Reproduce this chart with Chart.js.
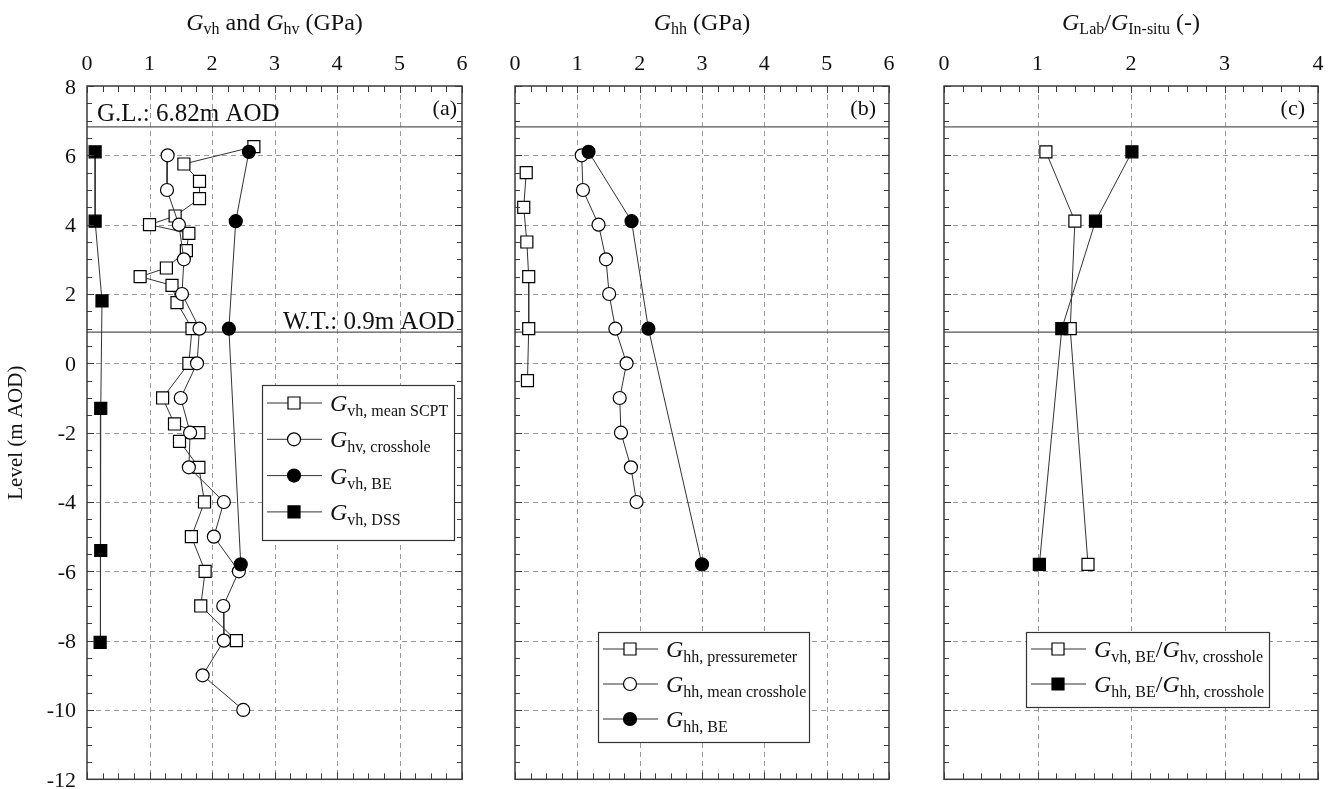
<!DOCTYPE html>
<html>
<head>
<meta charset="utf-8">
<script src="https://cdn.jsdelivr.net/npm/chart.js@4.4.1/dist/chart.umd.min.js"></script>
<style>
  html, body { margin: 0; padding: 0; background: #fff; }
  #wrap { position: relative; width: 1338px; height: 789px; background: #fff; }
  #wrap canvas { position: absolute; left: 0; top: 0; }
</style>
</head>
<body>
<div id="wrap">
  <canvas id="panelA" width="1338" height="789"></canvas>
  <canvas id="panelB" width="1338" height="789"></canvas>
  <canvas id="panelC" width="1338" height="789"></canvas>
</div>
<script>
// ---- Panel (a): G_vh and G_hv profiles (GPa) against level (m AOD) ----
const scptLevel = [6.25, 5.75, 5.25, 4.75, 4.25, 4.0, 3.75, 3.25, 2.75, 2.5, 2.25, 1.75, 1.0, 0, -1, -1.75, -2, -2.25, -3, -4, -5, -6, -7, -8];
const gvhScpt   = [2.67, 1.55, 1.80, 1.80, 1.41, 1.00, 1.63, 1.59, 1.27, 0.85, 1.36, 1.44, 1.68, 1.63, 1.21, 1.40, 1.79, 1.48, 1.79, 1.88, 1.67, 1.89, 1.82, 2.39];

const xholeLevel = [6, 5, 4, 3, 2, 1, 0, -1, -2, -3, -4, -5, -6, -7, -8, -9, -10];
const ghvXhole   = [1.29, 1.28, 1.47, 1.55, 1.52, 1.80, 1.76, 1.50, 1.65, 1.63, 2.19, 2.03, 2.43, 2.18, 2.19, 1.85, 2.50];

const beLevel = [6.1, 4.1, 1.0, -5.8];
const gvhBE   = [2.59, 2.38, 2.27, 2.46];

const dssLevel = [6.1, 4.1, 1.8, -1.3, -5.4, -8.05];
const gvhDss   = [0.13, 0.13, 0.24, 0.22, 0.22, 0.21];

// ---- Panel (b): G_hh profiles (GPa) ----
const pmLevel = [5.5, 4.5, 3.5, 2.5, 1.0, -0.5];
const ghhPm   = [0.18, 0.14, 0.19, 0.22, 0.22, 0.20];

const meanXholeLevel = [6, 5, 4, 3, 2, 1, 0, -1, -2, -3, -4];
const ghhXhole       = [1.07, 1.09, 1.34, 1.46, 1.51, 1.61, 1.79, 1.68, 1.70, 1.86, 1.95];

const ghhBE = [1.18, 1.87, 2.14, 3.00];

// ---- Panel (c): laboratory / in-situ ratios (-) ----
const ratioVh = [1.09, 1.40, 1.35, 1.54];
const ratioHh = [2.01, 1.62, 1.26, 1.02];

// ---- Axes ----
const levelTicks = [8, 6, 4, 2, 0, -2, -4, -6, -8, -10, -12];
const modulusTicks = [0, 1, 2, 3, 4, 5, 6];
const ratioTicks = [0, 1, 2, 3, 4];
const groundLevel = 6.82;
const waterTable = 0.9;

const FONT = '"Liberation Serif", "Times New Roman", Times, serif';
const LINE = '#333333';

const pts = (xs, ys) => xs.map((v, i) => ({ x: v, y: ys[i] }));

function series(label, xs, ys, style, filled, order) {
  return {
    label,
    data: pts(xs, ys),
    showLine: true,
    borderColor: LINE,
    borderWidth: 1,
    tension: 0,
    pointStyle: style,
    pointRadius: style === 'rect' ? 8.5 : 6.5,
    pointBackgroundColor: filled ? '#000' : '#fff',
    pointBorderColor: '#000',
    pointBorderWidth: 1.2,
    order
  };
}

// Text made of italic symbols, upright words and subscripts
function richParts(ctx, parts, big, small) {
  return parts.map(([t, k]) => {
    const font = k === 'i' ? `italic ${big}px ${FONT}` : k === 's' ? `${small}px ${FONT}` : `${big}px ${FONT}`;
    ctx.font = font;
    return { t, k, font, w: ctx.measureText(t).width };
  });
}
function drawRich(ctx, parts, x, y, big, small, subDy, align) {
  const p = richParts(ctx, parts, big, small);
  const total = p.reduce((s, q) => s + q.w, 0);
  let cx = align === 'center' ? x - total / 2 : x;
  ctx.textAlign = 'left';
  ctx.textBaseline = 'alphabetic';
  p.forEach(q => {
    ctx.font = q.font;
    ctx.fillText(q.t, cx, q.k === 's' ? y + subDy : y);
    cx += q.w;
  });
}

function steps(min, max, step) {
  const out = [];
  const n = Math.round((max - min) / step);
  for (let i = 0; i <= n; i++) out.push(+(min + i * step).toFixed(4));
  return out;
}

const panelPlugin = {
  id: 'panel',
  beforeDatasetsDraw(chart, args, o) {
    const { ctx, chartArea: a, scales: { x, y } } = chart;
    ctx.save();
    ctx.fillStyle = '#fff';
    ctx.fillRect(a.left, a.top, a.right - a.left, a.bottom - a.top);
    // dashed grid
    ctx.strokeStyle = '#999';
    ctx.lineWidth = 1;
    ctx.setLineDash([5, 4]);
    o.xTicks.forEach(v => {
      if (v <= x.min || v >= x.max) return;
      const px = Math.round(x.getPixelForValue(v)) + 0.5;
      ctx.beginPath(); ctx.moveTo(px, a.top); ctx.lineTo(px, a.bottom); ctx.stroke();
    });
    levelTicks.forEach(v => {
      if (v <= y.min || v >= y.max) return;
      const py = Math.round(y.getPixelForValue(v)) + 0.5;
      ctx.beginPath(); ctx.moveTo(a.left, py); ctx.lineTo(a.right, py); ctx.stroke();
    });
    ctx.setLineDash([]);
    // ground level and water table
    ctx.strokeStyle = '#555';
    ctx.lineWidth = 1.4;
    [groundLevel, waterTable].forEach(v => {
      const py = y.getPixelForValue(v);
      ctx.beginPath(); ctx.moveTo(a.left, py); ctx.lineTo(a.right, py); ctx.stroke();
    });
    ctx.restore();
  },
  afterDatasetsDraw(chart, args, o) {
    const { ctx, chartArea: a, scales: { x, y } } = chart;
    ctx.save();
    // frame
    ctx.strokeStyle = '#3a3a3a';
    ctx.lineWidth = 1.5;
    ctx.strokeRect(a.left, a.top, a.right - a.left, a.bottom - a.top);
    // inward ticks
    ctx.lineWidth = 1;
    ctx.beginPath();
    steps(x.min, x.max, o.xMinor).forEach(v => {
      const px = Math.round(x.getPixelForValue(v)) + 0.5;
      const len = o.xTicks.includes(v) ? 7 : 6;
      ctx.moveTo(px, a.top); ctx.lineTo(px, a.top + len);
      ctx.moveTo(px, a.bottom); ctx.lineTo(px, a.bottom - len);
    });
    steps(y.min, y.max, 0.5).forEach(v => {
      const py = Math.round(y.getPixelForValue(v)) + 0.5;
      const len = levelTicks.includes(v) ? 7 : 5;
      ctx.moveTo(a.left, py); ctx.lineTo(a.left + len, py);
      ctx.moveTo(a.right, py); ctx.lineTo(a.right - len, py);
    });
    ctx.stroke();

    ctx.fillStyle = '#111';
    // top tick labels
    ctx.font = `22px ${FONT}`;
    ctx.textAlign = 'center';
    ctx.textBaseline = 'alphabetic';
    o.xTicks.forEach(v => ctx.fillText(String(v), x.getPixelForValue(v), 70));
    // level labels (first panel only)
    if (o.yLabels) {
      ctx.textAlign = 'right';
      levelTicks.forEach(v => ctx.fillText(String(v), 76, y.getPixelForValue(v) + 7.5));
      ctx.save();
      ctx.translate(22, (a.top + a.bottom) / 2);
      ctx.rotate(-Math.PI / 2);
      ctx.font = `21px ${FONT}`;
      ctx.textAlign = 'center';
      ctx.fillText('Level (m AOD)', 0, 0);
      ctx.restore();
    }
    // axis title
    drawRich(ctx, o.title, (a.left + a.right) / 2, 30, 24, 16, 4, 'center');
    // panel tag
    ctx.font = `22px ${FONT}`;
    ctx.textAlign = 'right';
    ctx.fillText(o.tag, o.tagX, 115);
    // level notes
    (o.notes || []).forEach(n => {
      ctx.font = `25px ${FONT}`;
      ctx.textAlign = 'left';
      ctx.fillText(n.text, n.x, n.y);
    });
    // legend
    const L = o.legend;
    ctx.fillStyle = '#fff';
    ctx.fillRect(L.x, L.y, L.w, L.h);
    ctx.strokeStyle = '#333';
    ctx.lineWidth = 1.2;
    ctx.strokeRect(L.x + 0.5, L.y + 0.5, L.w, L.h);
    L.rows.forEach((r, i) => {
      const ds = chart.data.datasets[r.ds];
      const ry = L.y + L.first + i * L.gap;
      ctx.strokeStyle = ds.borderColor;
      ctx.lineWidth = 1;
      ctx.beginPath(); ctx.moveTo(L.x + 5, ry); ctx.lineTo(L.x + 60, ry); ctx.stroke();
      ctx.fillStyle = ds.pointBackgroundColor;
      ctx.strokeStyle = ds.pointBorderColor;
      ctx.lineWidth = ds.pointBorderWidth;
      Chart.helpers.drawPoint(ctx, { pointStyle: ds.pointStyle, radius: ds.pointRadius, rotation: 0, borderWidth: ds.pointBorderWidth }, L.x + 32, ry);
      ctx.fillStyle = '#111';
      drawRich(ctx, r.parts, L.x + 68, ry + 8, 24, 16, 5, 'left');
    });
    ctx.restore();
  }
};

function makePanel(id, pad, xMax, datasets, panelOpts) {
  return new Chart(document.getElementById(id), {
    type: 'scatter',
    data: { datasets },
    plugins: [panelPlugin],
    options: {
      responsive: false,
      animation: false,
      events: [],
      layout: { padding: pad },
      scales: {
        x: { type: 'linear', min: 0, max: xMax, display: false },
        y: { type: 'linear', min: -12, max: 8, display: false }
      },
      plugins: { legend: { display: false }, tooltip: { enabled: false }, panel: panelOpts }
    }
  });
}

// (a)
makePanel('panelA', { left: 87, right: 876, top: 86, bottom: 7 }, 6, [
  series('Gvh, mean SCPT', gvhScpt, scptLevel, 'rect', false, 3),
  series('Ghv, crosshole', ghvXhole, xholeLevel, 'circle', false, 2),
  series('Gvh, BE', gvhBE, beLevel, 'circle', true, 1),
  series('Gvh, DSS', gvhDss, dssLevel, 'rect', true, 4)
], {
  xTicks: modulusTicks, xMinor: 0.25, yLabels: true,
  title: [['G', 'i'], ['vh', 's'], [' and ', 'n'], ['G', 'i'], ['hv', 's'], [' (GPa)', 'n']],
  tag: '(a)', tagX: 457,
  notes: [{ text: 'G.L.: 6.82m AOD', x: 97, y: 121 }, { text: 'W.T.: 0.9m AOD', x: 283, y: 329 }],
  legend: {
    x: 262, y: 385, w: 192, h: 155, first: 18, gap: 36.3,
    rows: [
      { ds: 0, parts: [['G', 'i'], ['vh, mean SCPT', 's']] },
      { ds: 1, parts: [['G', 'i'], ['hv, crosshole', 's']] },
      { ds: 2, parts: [['G', 'i'], ['vh, BE', 's']] },
      { ds: 3, parts: [['G', 'i'], ['vh, DSS', 's']] }
    ]
  }
});

// (b)
makePanel('panelB', { left: 515, right: 449, top: 86, bottom: 7 }, 6, [
  series('Ghh, pressuremeter', ghhPm, pmLevel, 'rect', false, 3),
  series('Ghh, mean crosshole', ghhXhole, meanXholeLevel, 'circle', false, 2),
  series('Ghh, BE', ghhBE, beLevel, 'circle', true, 1)
], {
  xTicks: modulusTicks, xMinor: 0.25, yLabels: false,
  title: [['G', 'i'], ['hh', 's'], [' (GPa)', 'n']],
  tag: '(b)', tagX: 876,
  legend: {
    x: 598, y: 632, w: 211, h: 110, first: 17, gap: 35,
    rows: [
      { ds: 0, parts: [['G', 'i'], ['hh, pressuremeter', 's']] },
      { ds: 1, parts: [['G', 'i'], ['hh, mean crosshole', 's']] },
      { ds: 2, parts: [['G', 'i'], ['hh, BE', 's']] }
    ]
  }
});

// (c)
makePanel('panelC', { left: 944, right: 20, top: 86, bottom: 7 }, 4, [
  series('Gvh,BE / Ghv,crosshole', ratioVh, beLevel, 'rect', false, 2),
  series('Ghh,BE / Ghh,crosshole', ratioHh, beLevel, 'rect', true, 1)
], {
  xTicks: ratioTicks, xMinor: 0.2, yLabels: false,
  title: [['G', 'i'], ['Lab', 's'], ['/', 'n'], ['G', 'i'], ['In-situ', 's'], [' (-)', 'n']],
  tag: '(c)', tagX: 1305,
  legend: {
    x: 1026, y: 632, w: 243, h: 75, first: 17, gap: 35,
    rows: [
      { ds: 0, parts: [['G', 'i'], ['vh, BE', 's'], ['/', 'n'], ['G', 'i'], ['hv, crosshole', 's']] },
      { ds: 1, parts: [['G', 'i'], ['hh, BE', 's'], ['/', 'n'], ['G', 'i'], ['hh, crosshole', 's']] }
    ]
  }
});
</script>
</body>
</html>
